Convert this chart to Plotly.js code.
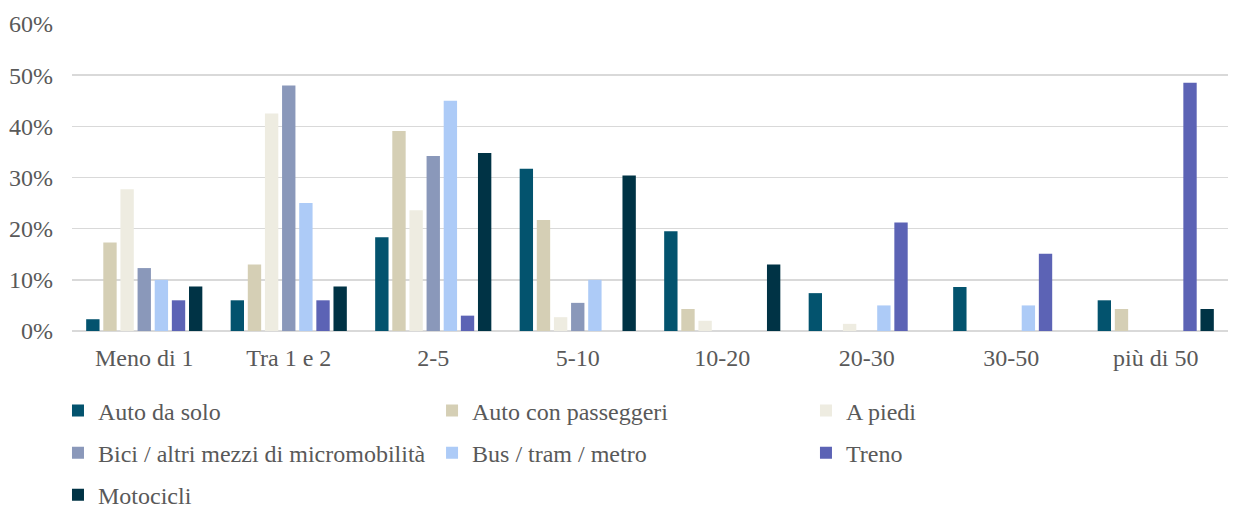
<!DOCTYPE html>
<html>
<head>
<meta charset="utf-8">
<script src="https://cdn.plot.ly/plotly-3.0.1.min.js"></script>
<style>html,body{margin:0;padding:0;background:#fff;}#chart{width:1239px;height:509px;}</style>
</head>
<body>
<div id="chart"></div>
<script>
const categories = ["Meno di 1", "Tra 1 e 2", "2-5", "5-10", "10-20", "20-30", "30-50", "più di 50"];
const seriesNames = ["Auto da solo", "Auto con passeggeri", "A piedi", "Bici / altri mezzi di micromobilità", "Bus / tram / metro", "Treno", "Motocicli"];
const autoDaSolo      = [0.023, 0.060, 0.183, 0.317, 0.195, 0.074, 0.086, 0.060];
const autoPasseggeri  = [0.173, 0.130, 0.391, 0.217, 0.043, 0.000, 0.000, 0.043];
const aPiedi          = [0.277, 0.425, 0.236, 0.027, 0.020, 0.014, 0.000, 0.000];
const bici            = [0.123, 0.480, 0.342, 0.055, 0.000, 0.000, 0.000, 0.000];
const bus             = [0.100, 0.250, 0.450, 0.100, 0.000, 0.050, 0.050, 0.000];
const treno           = [0.060, 0.060, 0.030, 0.000, 0.000, 0.212, 0.151, 0.485];
const motocicli       = [0.087, 0.087, 0.348, 0.304, 0.130, 0.000, 0.000, 0.043];
const colors = ["#03536E", "#D5CFB5", "#EEECE1", "#8A98BA", "#ADCBF7", "#5C63B5", "#003345"];
const tickVals = [0, 0.1, 0.2, 0.3, 0.4, 0.5, 0.6];
const tickText = ["0%", "10%", "20%", "30%", "40%", "50%", "60%"];

const allSeries = [autoDaSolo, autoPasseggeri, aPiedi, bici, bus, treno, motocicli];
// legend columns: col1 = legend, col2 = legend2, col3 = legend3
const legendIds = ["legend", "legend2", "legend3", "legend", "legend2", "legend3", "legend"];

const FONT = "Liberation Serif, Times New Roman, serif";
const traces = allSeries.map((vals, i) => ({
  type: "bar",
  name: seriesNames[i],
  x: categories,
  y: vals,
  legend: legendIds[i],
  legendgroup: "g" + i,
  marker: {color: colors[i], line: {width: 0}},
  hoverinfo: "x+y+name"
}));

const legendBase = {
  orientation: "v",
  xref: "container",
  yref: "container",
  xanchor: "left",
  yanchor: "top",
  y: 0.237,
  traceorder: "grouped",
  tracegroupgap: 8,
  bgcolor: "rgba(0,0,0,0)",
  borderwidth: 0,
  font: {family: FONT, size: 24, color: "#595959"}
};

const layout = {
  width: 1239,
  height: 509,
  margin: {l: 72, r: 11, t: 24, b: 178, autoexpand: false},
  paper_bgcolor: "#ffffff",
  plot_bgcolor: "#ffffff",
  font: {family: FONT, size: 24, color: "#595959"},
  barmode: "group",
  bargap: 0.17,
  bargroupgap: 0.22,
  xaxis: {
    type: "category",
    showgrid: false,
    showline: false,
    ticks: "",
    ticklabelstandoff: 10,
    automargin: false,
    tickfont: {family: FONT, size: 24, color: "#595959"}
  },
  yaxis: {
    range: [0, 0.6],
    tickvals: tickVals,
    ticktext: tickText,
    showgrid: true,
    gridcolor: "#D9D9D9",
    gridwidth: 1.5,
    zeroline: true,
    zerolinecolor: "#D9D9D9",
    zerolinewidth: 1.5,
    ticks: "",
    ticklabelstandoff: 18,
    automargin: false,
    tickfont: {family: FONT, size: 24, color: "#595959"}
  },
  legend: Object.assign({}, legendBase, {x: 0.0468}),
  legend2: Object.assign({}, legendBase, {x: 0.3487}),
  legend3: Object.assign({}, legendBase, {x: 0.6505}),
  showlegend: true
};

Plotly.newPlot("chart", traces, layout, {displayModeBar: false, staticPlot: true});
</script>
</body>
</html>
